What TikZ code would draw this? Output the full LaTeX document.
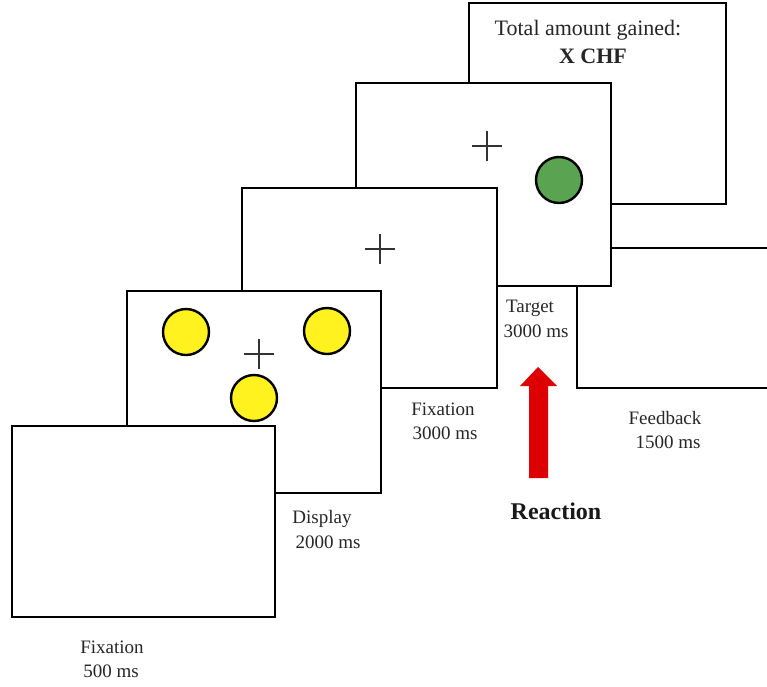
\documentclass[tikz,border=0pt]{standalone}
\usepackage{fontspec}
\setmainfont{Liberation Serif}
\definecolor{dotyellow}{RGB}{255,242,30}
\definecolor{dotgreen}{RGB}{90,163,80}
\definecolor{arrowred}{RGB}{222,0,0}
\tikzset{
  screen/.style={draw=black, fill=white, line width=2.7pt, line join=miter},
  dot/.style={circle, draw=black, line width=2.4pt, minimum size=46pt, inner sep=0pt},
  lbl/.style={anchor=base, inner sep=0pt, font=\fontsize{19}{23}\selectfont, text=black!85},
  cross/.style={line width=1.4pt, black!80},
}
\newcommand{\fixcross}[1]{\draw[cross] ($(#1)+(-15,0)$) -- ($(#1)+(15,0)$); \draw[cross] ($(#1)+(0,-15)$) -- ($(#1)+(0,15)$);}
\usetikzlibrary{calc}
\begin{document}
\begin{tikzpicture}[x=1pt,y=-1pt]
\useasboundingbox (0,0) rectangle (767,686);
% partially hidden box at right (behind Target)
\draw[screen] (790,248) -- (577,248) -- (577,388) -- (790,388);
% Feedback screen
\draw[screen] (469,3) rectangle (726,204);
\node[lbl, font=\fontsize{22}{26}\selectfont] (tot) at (588,35) {Total amount gained:};
\node[lbl, font=\fontsize{22}{26}\selectfont\bfseries] (chf) at (593,63) {X CHF};
% Target screen
\draw[screen] (356,83) rectangle (611,286);
\coordinate (tc) at (487,146);
\fixcross{tc}
\node[dot, fill=dotgreen] (g) at (559,180) {};
% Fixation 3000 screen
\draw[screen] (242,188) rectangle (497,388);
\coordinate (fc) at (380,249);
\fixcross{fc}
% Display screen
\draw[screen] (127,291) rectangle (381,493);
\coordinate (dc) at (259,354);
\fixcross{dc}
\node[dot, fill=dotyellow] (y1) at (186,332) {};
\node[dot, fill=dotyellow] (y2) at (327,331) {};
\node[dot, fill=dotyellow] (y3) at (254,398) {};
% Fixation 500 screen
\draw[screen] (12,426) rectangle (275,617);
% labels
\node[lbl] (l1a) at (112,653) {Fixation};
\node[lbl] (l1b) at (111,677) {500 ms};
\node[lbl] (l2a) at (322,523) {Display};
\node[lbl] (l2b) at (328,548) {2000 ms};
\node[lbl] (l3a) at (443,415) {Fixation};
\node[lbl] (l3b) at (445,439) {3000 ms};
\node[lbl] (l4a) at (530,312) {Target};
\node[lbl] (l4b) at (536,337) {3000 ms};
\node[lbl] (l5a) at (665,424) {Feedback};
\node[lbl] (l5b) at (668,448) {1500 ms};
% reaction arrow
\fill[arrowred] (529,478) -- (529,386) -- (520,386) -- (538,367) -- (557,386) -- (548,386) -- (548,478) -- cycle;
\node[lbl, font=\fontsize{24}{28}\selectfont\bfseries, text=black!90] (re) at (556,519) {Reaction};
\end{tikzpicture}
\end{document}
